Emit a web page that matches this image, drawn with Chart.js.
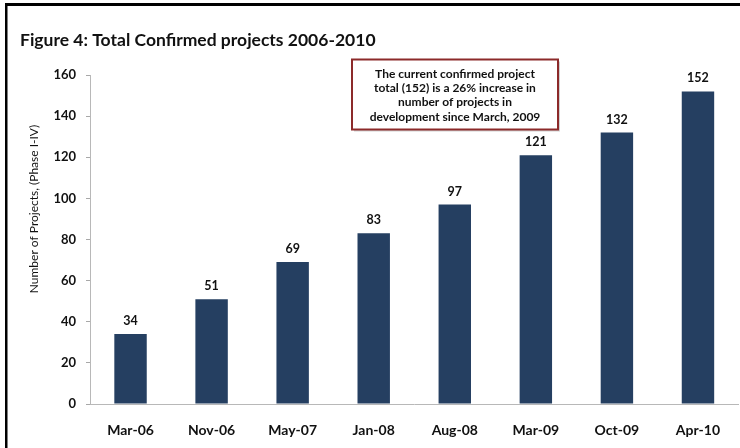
<!DOCTYPE html>
<html>
<head>
<meta charset="utf-8">
<script src="https://cdn.jsdelivr.net/npm/chart.js@4/dist/chart.umd.min.js"></script>
<style>
  html, body { margin: 0; padding: 0; background: #ffffff; }
  #wrap { position: relative; width: 740px; height: 448px; }
</style>
</head>
<body>
<div id="wrap"><canvas id="c" width="740" height="448"></canvas></div>
<script>
const categories = ["Mar-06", "Nov-06", "May-07", "Jan-08", "Aug-08", "Mar-09", "Oct-09", "Apr-10"];
const projectCounts = [34, 51, 69, 83, 97, 121, 132, 152];
const yTicks = [0, 20, 40, 60, 80, 100, 120, 140, 160];
const titleText = "Figure 4: Total Confirmed projects 2006-2010";
const yAxisTitle = "Number of Projects, (Phase I-IV)";
const noteLines = [
  "The current confirmed project",
  "total (152) is a 26% increase in",
  "number of projects in",
  "development since March, 2009"
];

const FONT = "Lato, 'Open Sans', 'DejaVu Sans', sans-serif";

const decor = {
  id: 'decor',
  beforeDraw(chart) {
    const ctx = chart.ctx;
    ctx.save();
    ctx.fillStyle = '#ffffff';
    ctx.fillRect(0, 0, chart.width, chart.height);
    // frame
    ctx.fillStyle = '#000000';
    ctx.fillRect(5, 3, 735, 3);
    ctx.fillRect(5, 3, 2.5, 445);
    // title
    ctx.fillStyle = '#111111';
    ctx.font = "bold 17.5px " + FONT;
    ctx.textAlign = 'left';
    ctx.textBaseline = 'alphabetic';
    ctx.fillText(titleText, 20, 46);
    // y axis title
    ctx.translate(34, 209);
    ctx.rotate(-Math.PI / 2);
    ctx.font = "12px " + FONT;
    ctx.textAlign = 'center';
    ctx.textBaseline = 'middle';
    ctx.fillText(yAxisTitle, 0, 0);
    ctx.restore();
  },
  afterDatasetsDraw(chart) {
    const ctx = chart.ctx;
    const meta = chart.getDatasetMeta(0);
    ctx.save();
    ctx.fillStyle = '#111111';
    ctx.font = "bold 12.5px " + FONT;
    ctx.textAlign = 'center';
    ctx.textBaseline = 'alphabetic';
    meta.data.forEach((bar, i) => {
      ctx.fillText(String(projectCounts[i]), bar.x, bar.y - 9);
    });
    // annotation box
    const bx = 352, by = 59.5, bw = 206, bh = 70;
    ctx.fillStyle = 'rgba(0,0,0,0.18)';
    ctx.fillRect(bx + 2, by + 2, bw, bh);
    ctx.fillStyle = '#ffffff';
    ctx.fillRect(bx, by, bw, bh);
    ctx.strokeStyle = '#8c2a2a';
    ctx.lineWidth = 2;
    ctx.strokeRect(bx, by, bw, bh);
    ctx.fillStyle = '#111111';
    ctx.font = "bold 12px " + FONT;
    ctx.textBaseline = 'middle';
    noteLines.forEach((t, i) => {
      ctx.fillText(t, bx + bw / 2, 74 + i * 14.3);
    });
    ctx.restore();
  }
};

new Chart(document.getElementById('c'), {
  type: 'bar',
  data: {
    labels: categories,
    datasets: [{
      data: projectCounts,
      backgroundColor: '#253f61',
      borderWidth: 0,
      categoryPercentage: 1.0,
      barPercentage: 0.4
    }]
  },
  options: {
    responsive: false,
    animation: false,
    devicePixelRatio: 1,
    layout: { padding: { top: 75, left: 0, right: 1.5, bottom: 0 } },
    plugins: { legend: { display: false }, title: { display: false }, tooltip: { enabled: false } },
    scales: {
      x: {
        afterFit(s) { s.height = 44; },
        grid: { display: false, drawTicks: false },
        border: { display: true, color: '#b8b8b8', width: 1 },
        ticks: {
          padding: 18,
          color: '#111111',
          font: { family: FONT, size: 14, weight: 'bold' }
        }
      },
      y: {
        min: 0,
        max: 160,
        afterFit(s) { s.width = 90; },
        afterBuildTicks(s) { s.ticks = yTicks.map(v => ({ value: v })); },
        grid: { display: true, drawOnChartArea: false, drawTicks: true, tickLength: 4, color: '#a8a8a8' },
        border: { display: true, color: '#b8b8b8', width: 1 },
        ticks: {
          padding: 10,
          color: '#111111',
          font: { family: FONT, size: 13, weight: 'bold' }
        }
      }
    }
  },
  plugins: [decor]
});
</script>
</body>
</html>
